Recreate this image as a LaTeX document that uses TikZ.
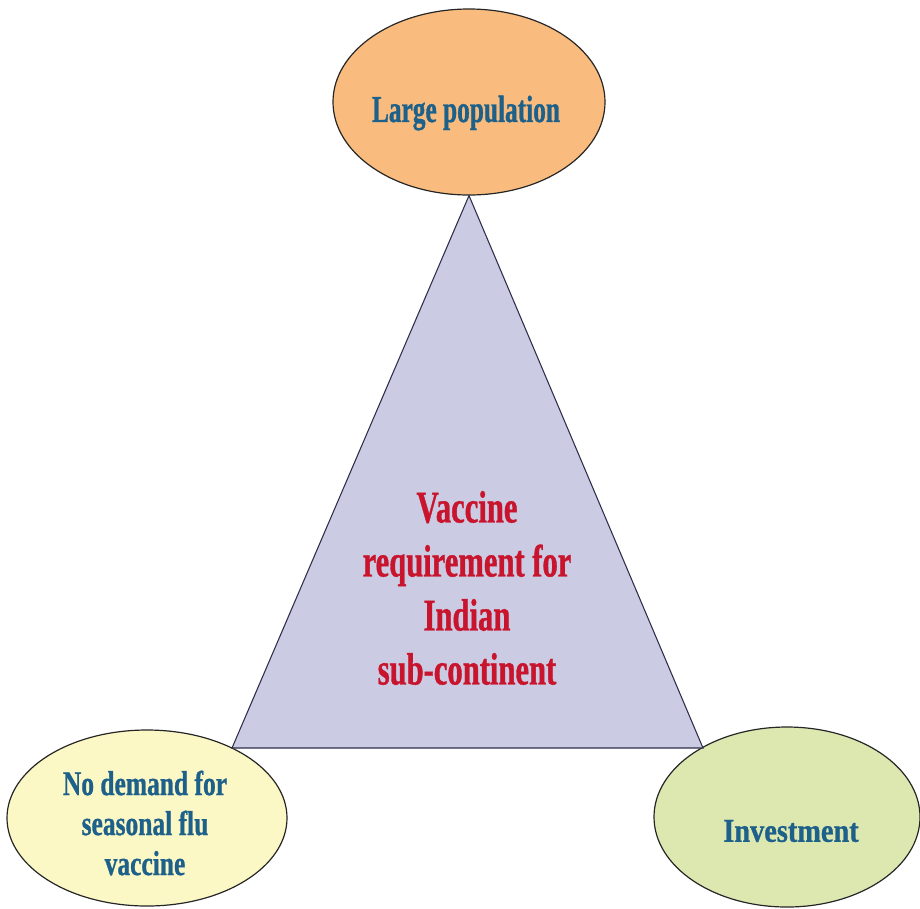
\documentclass[tikz,border=0pt]{standalone}
\usepackage{fontspec}
\setmainfont{Liberation Serif}
\usetikzlibrary{shapes.geometric}
\definecolor{orangefill}{HTML}{F9BC7E}
\definecolor{yellowfill}{HTML}{FBF8C6}
\definecolor{greenfill}{HTML}{DCE8B0}
\definecolor{trifill}{HTML}{CBCBE4}
\definecolor{tealtext}{HTML}{1D6089}
\definecolor{redtext}{HTML}{C8142C}
\definecolor{triline}{HTML}{2E2E4A}
% condensed heavy serif at a given size, leading and horizontal stretch
\newcommand{\condfont}[3]{\bfseries\addfontfeatures{FakeStretch=#3,FakeBold=0.8}\fontsize{#1}{#2}\selectfont}
\tikzset{
  bubble/.style={ellipse, draw=black!85, line width=0.9pt, inner sep=0pt},
  bubbletext/.style={text=tealtext, align=center, inner sep=0pt},
  coretext/.style={text=redtext, align=center, inner sep=0pt, font=\condfont{34}{40.5}{0.675}},
}
\begin{document}
\begin{tikzpicture}[x=0.75pt,y=-0.75pt]
\useasboundingbox (0,0) rectangle (920,908);
% corner ovals
\node[bubble, fill=orangefill, minimum width=272*0.75pt, minimum height=186*0.75pt] (pop) at (469,102) {};
\node[bubble, fill=yellowfill, minimum width=280*0.75pt, minimum height=176*0.75pt] (flu) at (147,818) {};
\node[bubble, fill=greenfill, minimum width=266*0.75pt, minimum height=180*0.75pt] (inv) at (787,817) {};
% triangle corners
\coordinate (apex) at (pop.south);
\coordinate (left) at (232,748);
\coordinate (right) at (703,748);
\draw[fill=trifill, draw=triline, line width=0.8pt, line join=miter] (apex) -- (left) -- (right) -- cycle;
% labels
\node[bubbletext, font=\condfont{28.5}{32}{0.667}] (poptext) at (466,113) {Large population};
\node[bubbletext, font=\condfont{26}{30}{0.735}] (flutext) at (145,823) {No demand for\\seasonal flu\\vaccine};
\node[bubbletext, font=\condfont{25}{30}{0.85}] (invtext) at (791,831) {Investment};
\node[coretext] (core) at (467,588) {Vaccine\\requirement for\\Indian\\sub-continent};
\end{tikzpicture}
\end{document}
